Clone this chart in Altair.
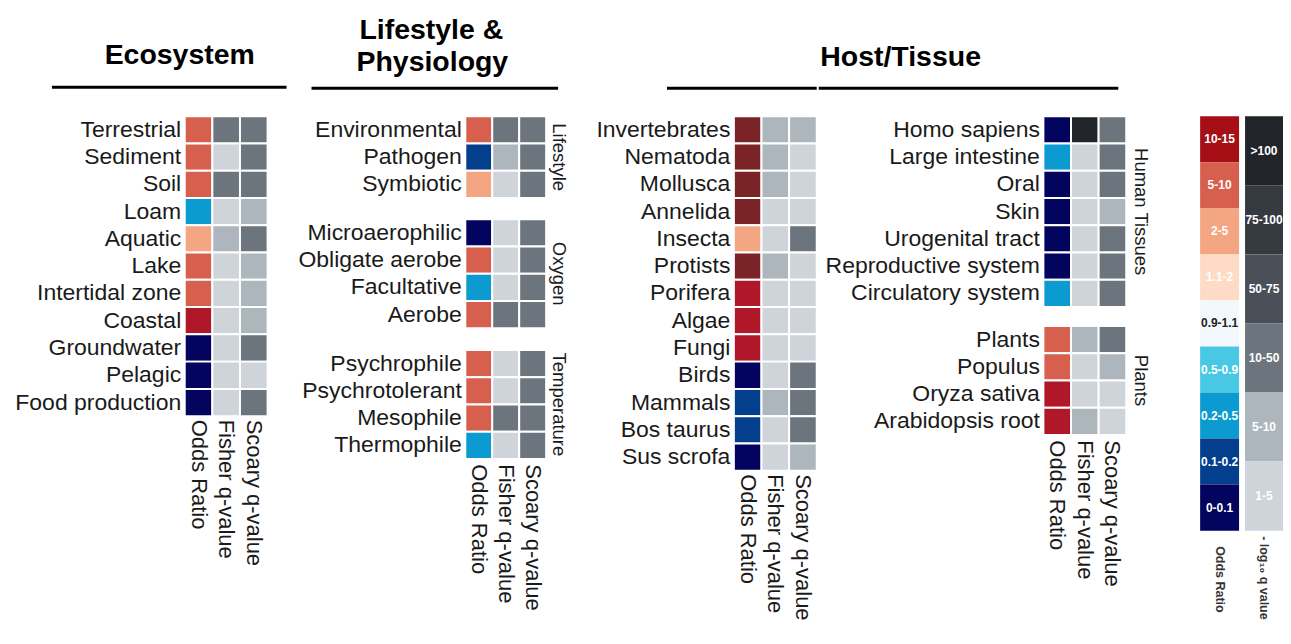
import altair as alt
import pandas as pd

FONT = "Liberation Sans"
METRICS = ["Odds Ratio", "Fisher q-value", "Scoary q-value"]

# colour bins
OR_BINS = [">15", "10-15", "5-10", "2-5", "1.1-2", "0.9-1.1", "0.5-0.9", "0.2-0.5", "0.1-0.2", "0-0.1"]
OR_COLORS = ["#7b2427", "#b0182a", "#d6604d", "#f4a582", "#fddbc7", "#f3f8fc",
             "#48c8e5", "#0b9bd0", "#033f8c", "#03045e"]
Q_BINS = [">100", "75-100", "50-75", "10-50", "5-10", "1-5"]
Q_COLORS = ["#212529", "#343a40", "#495057", "#6c757d", "#adb5bd", "#ced4da"]
LEGEND_OR_BINS = ["10-15", "5-10", "2-5", "1.1-2", "0.9-1.1", "0.5-0.9", "0.2-0.5", "0.1-0.2", "0-0.1"]
LEGEND_OR_COLORS = ["#a50f15", "#d6604d", "#f4a582", "#fddbc7", "#f3f8fc",
                    "#48c8e5", "#0b9bd0", "#033f8c", "#03045e"]

# Ecosystem
eco_labels = ["Terrestrial", "Sediment", "Soil", "Loam", "Aquatic", "Lake",
              "Intertidal zone", "Coastal", "Groundwater", "Pelagic", "Food production"]
eco_or = ["5-10", "5-10", "5-10", "0.2-0.5", "2-5", "5-10", "5-10", "10-15", "0-0.1", "0-0.1", "0-0.1"]
eco_fisher = ["10-50", "1-5", "10-50", "1-5", "5-10", "1-5", "1-5", "1-5", "1-5", "1-5", "1-5"]
eco_scoary = ["10-50", "10-50", "10-50", "5-10", "10-50", "5-10", "5-10", "5-10", "10-50", "1-5", "10-50"]

# Lifestyle & Physiology
life_group_order = ["Lifestyle", "Oxygen", "Temperature"]
life_labels = ["Environmental", "Pathogen", "Symbiotic",
               "Microaerophilic", "Obligate aerobe", "Facultative", "Aerobe",
               "Psychrophile", "Psychrotolerant", "Mesophile", "Thermophile"]
life_groups = ["Lifestyle"] * 3 + ["Oxygen"] * 4 + ["Temperature"] * 4
life_or = ["5-10", "0.1-0.2", "2-5", "0-0.1", "5-10", "0.2-0.5", "5-10", "5-10", "5-10", "5-10", "0.2-0.5"]
life_fisher = ["10-50", "5-10", "1-5", "1-5", "1-5", "1-5", "10-50", "1-5", "1-5", "10-50", "1-5"]
life_scoary = ["10-50"] * 11

# Host / Tissue (left block)
inv_labels = ["Invertebrates", "Nematoda", "Mollusca", "Annelida", "Insecta", "Protists",
              "Porifera", "Algae", "Fungi", "Birds", "Mammals", "Bos taurus", "Sus scrofa"]
inv_or = [">15", ">15", ">15", ">15", "2-5", ">15", "10-15", "10-15", "10-15",
          "0-0.1", "0.1-0.2", "0.1-0.2", "0-0.1"]
inv_fisher = ["5-10", "5-10", "5-10", "1-5", "1-5", "5-10", "1-5", "1-5", "1-5", "1-5", "5-10", "1-5", "1-5"]
inv_scoary = ["5-10", "1-5", "1-5", "1-5", "10-50", "1-5", "1-5", "1-5", "1-5", "10-50", "10-50", "10-50", "5-10"]

# Host / Tissue (right block)
hp_group_order = ["Human Tissues", "Plants"]
hp_labels = ["Homo sapiens", "Large intestine", "Oral", "Skin", "Urogenital tract",
             "Reproductive system", "Circulatory system",
             "Plants", "Populus", "Oryza sativa", "Arabidopsis root"]
hp_groups = ["Human Tissues"] * 7 + ["Plants"] * 4
hp_or = ["0-0.1", "0.2-0.5", "0-0.1", "0-0.1", "0-0.1", "0-0.1", "0.2-0.5", "5-10", "5-10", "10-15", "10-15"]
hp_fisher = [">100", "1-5", "1-5", "1-5", "1-5", "1-5", "1-5", "5-10", "1-5", "1-5", "5-10"]
hp_scoary = ["10-50", "10-50", "10-50", "5-10", "10-50", "10-50", "10-50", "10-50", "5-10", "1-5", "1-5"]

SECTION_TITLES = ["Ecosystem", "Lifestyle &", "Physiology", "Host/Tissue"]


def long_table(labels, groups, ors, fishers, scoarys):
    rows = []
    for i, (lab, g, o, f, s) in enumerate(zip(labels, groups, ors, fishers, scoarys)):
        rows.append(dict(label=lab, group=g, order=i, metric=METRICS[0], key="OR " + o))
        rows.append(dict(label=lab, group=g, order=i, metric=METRICS[1], key="Q " + f))
        rows.append(dict(label=lab, group=g, order=i, metric=METRICS[2], key="Q " + s))
    return pd.DataFrame(rows)


eco_df = long_table(eco_labels, ["Ecosystem"] * len(eco_labels), eco_or, eco_fisher, eco_scoary)
life_df = long_table(life_labels, life_groups, life_or, life_fisher, life_scoary)
inv_df = long_table(inv_labels, ["Host"] * len(inv_labels), inv_or, inv_fisher, inv_scoary)
hp_df = long_table(hp_labels, hp_groups, hp_or, hp_fisher, hp_scoary)

color_scale = alt.Scale(
    domain=["OR " + b for b in OR_BINS] + ["Q " + b for b in Q_BINS] + ["L " + b for b in LEGEND_OR_BINS],
    range=OR_COLORS + Q_COLORS + LEGEND_OR_COLORS,
)

TEXT_COLOR = "#1a1a1a"
STEP_Y = 27.3


def xaxis():
    return alt.Axis(orient="bottom", labelAngle=90, labelFontSize=22, labelPadding=3,
                    labelColor=TEXT_COLOR, title=None, ticks=False, domain=False, labelLimit=300)


def yaxis(extent):
    return alt.Axis(labelFontSize=23, labelPadding=4, labelColor=TEXT_COLOR, title=None,
                    ticks=False, domain=False, minExtent=extent, maxExtent=extent, labelLimit=400)


def heat(extent):
    return alt.Chart().mark_rect(stroke="white", strokeWidth=2).encode(
        x=alt.X("metric:N", sort=METRICS, axis=xaxis()),
        y=alt.Y("label:N", sort=alt.EncodingSortField(field="order", op="min"), axis=yaxis(extent)),
        color=alt.Color("key:N", scale=color_scale, legend=None),
    )


def title_mark(base, txt, x, y):
    return base.mark_text(fontSize=28.5, fontWeight="bold", font=FONT, color="black",
                          baseline="middle", align="center").encode(
        x=alt.value(x), y=alt.value(y), text=alt.value(txt))


def bar_mark(base, x1, x2, y, opacity=1.0):
    return base.mark_rect(color="black", opacity=opacity).encode(
        x=alt.value(x1), x2=alt.value(x2), y=alt.value(y - 1.5), y2=alt.value(y + 1.5))


def header_def(pad):
    return alt.Header(labelOrient="right", labelAngle=90, labelFontSize=18.5, labelPadding=pad,
                      labelColor=TEXT_COLOR, labelFont=FONT)


one = alt.Data(values=[{}])
# header marks inside a facet: a single datum, the first row of the first facet
first_row = alt.Chart().transform_filter(
    (alt.datum.order == 0) & (alt.datum.metric == METRICS[0]))

# Ecosystem panel (mark origin = top-left cell)
eco = alt.layer(
    heat(177).properties(data=eco_df),
    title_mark(alt.Chart(one), SECTION_TITLES[0], -5, -61),
    bar_mark(alt.Chart(one), -133, 102, -29),
    bar_mark(alt.Chart(one), 0, 1, -107, opacity=0.0),
).properties(width=alt.Step(27.67), height=alt.Step(STEP_Y))

# Lifestyle & Physiology panel
life = alt.layer(
    heat(179),
    title_mark(first_row, SECTION_TITLES[1], -34, -86),
    title_mark(first_row, SECTION_TITLES[2], -33, -54),
    bar_mark(first_row, -154, 93, -28),
    data=life_df,
).properties(width=alt.Step(27), height=alt.Step(STEP_Y)).facet(
    row=alt.Row("group:N", sort=life_group_order, title=None, header=header_def(-9)),
    spacing=19,
).resolve_scale(y="independent")

# Host panel, left block
inv = alt.layer(
    heat(166).properties(data=inv_df),
    bar_mark(alt.Chart(one), -67, 83, -28),
).properties(width=alt.Step(27.67), height=alt.Step(STEP_Y))

# Host panel, right block
hp = alt.layer(
    heat(225),
    title_mark(first_row, SECTION_TITLES[3], -143, -59),
    bar_mark(first_row, -225, 75, -28),
    data=hp_df,
).properties(width=alt.Step(27.67), height=alt.Step(STEP_Y)).facet(
    row=alt.Row("group:N", sort=hp_group_order, title=None, header=header_def(3)),
    spacing=16,
).resolve_scale(y="independent")

# Legends
or_leg_df = pd.DataFrame({"bin": LEGEND_OR_BINS, "key": ["L " + b for b in LEGEND_OR_BINS],
                          "name": ["Odds Ratio"] * len(LEGEND_OR_BINS)})
q_leg_df = pd.DataFrame({"bin": Q_BINS, "key": ["Q " + b for b in Q_BINS],
                         "name": ["- log\u2081\u2080 q value"] * len(Q_BINS)})


def legend_chart(df, bins, width, pad, extent):
    base = alt.Chart(df).encode(
        x=alt.X("name:N", axis=alt.Axis(labelAngle=90, labelFontSize=12.5, labelFontWeight="bold",
                                        labelPadding=pad, labelColor="#333333", title=None,
                                        ticks=False, domain=False)),
        y=alt.Y("bin:N", sort=bins,
                axis=alt.Axis(labels=False, ticks=False, domain=False, grid=False, title=None,
                              minExtent=extent, maxExtent=extent)),
    )
    rect = base.mark_rect().encode(color=alt.Color("key:N", scale=color_scale, legend=None))
    txt = base.mark_text(fontSize=12, fontWeight="bold").encode(
        text="bin:N",
        color=alt.condition(alt.datum.bin == "0.9-1.1", alt.value("#222222"), alt.value("white")),
    )
    return alt.layer(rect, txt).properties(width=width, height=415)


or_leg = legend_chart(or_leg_df, LEGEND_OR_BINS, 39, 15, 50)
q_leg = legend_chart(q_leg_df, Q_BINS, 38, 5, 6)

chart = alt.hconcat(eco, life, inv, hp, or_leg, q_leg, spacing=0).properties(
    padding={"left": 0, "top": -1, "right": 0, "bottom": 0}
).configure(font=FONT).configure_view(stroke=None).configure_axis(grid=False)

chart.save("out.html", embed_options={"renderer": "svg", "actions": False})
